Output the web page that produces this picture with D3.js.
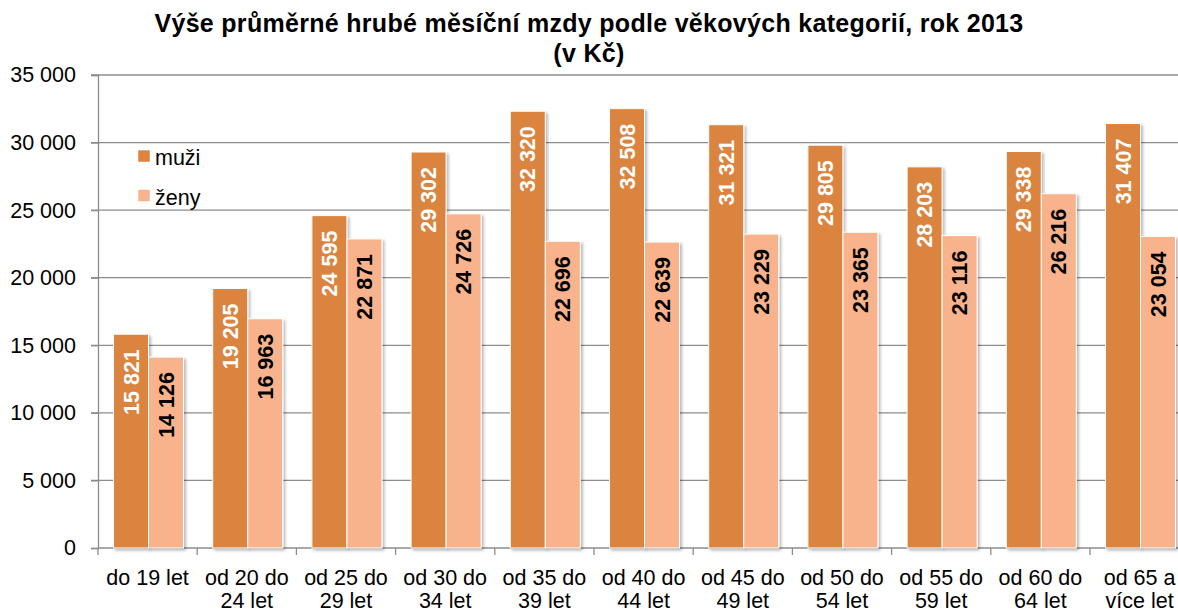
<!DOCTYPE html>
<html><head><meta charset="utf-8">
<script src="https://cdn.jsdelivr.net/npm/d3@7"></script>
<style>
body{margin:0;background:#fff;}
svg{display:block;font-family:"Liberation Sans",Arial,sans-serif;}
</style></head>
<body>
<svg id="chart" width="1178" height="612"></svg>
<script>
const categories = [["do 19 let"],["od 20 do","24 let"],["od 25 do","29 let"],["od 30 do","34 let"],["od 35 do","39 let"],["od 40 do","44 let"],["od 45 do","49 let"],["od 50 do","54 let"],["od 55 do","59 let"],["od 60 do","64 let"],["od 65 a","více let"]];
const seriesNames = ["muži","ženy"];
const muzi = [15821,19205,24595,29302,32320,32508,31321,29805,28203,29338,31407];
const zeny = [14126,16963,22871,24726,22696,22639,23229,23365,23116,26216,23054];
const yTicks = [0,5000,10000,15000,20000,25000,30000,35000];
const titleLines = ["Výše průměrné hrubé měsíční mzdy podle věkových kategorií, rok 2013","(v Kč)"];
const colors = {"muži":"#DB843F","ženy":"#F8B38C"};
const labelColors = {"muži":"#ffffff","ženy":"#000000"};

(function(){
const svg = d3.select("#chart");
const W = 1178;
const mLeft = 98, mTop = 75, mBottom = 548;
const catKeys = categories.map(c => c.join(" "));
const x0 = d3.scaleBand().domain(catKeys).range([mLeft, mLeft + 11*99.2]);
const x1 = d3.scaleBand().domain(seriesNames).range([15.5, 85.5]);
const y = d3.scaleLinear().domain([0,35000]).range([mBottom, mTop]);
const fmt = v => d3.format(",")(v).replace(/,/g, " ");

const defs = svg.append("defs");
const f = defs.append("filter").attr("id","sh").attr("x","-20%").attr("y","-5%").attr("width","150%").attr("height","120%");
f.append("feDropShadow").attr("dx",2).attr("dy",2).attr("stdDeviation",1.5).attr("flood-color","#000").attr("flood-opacity",0.28);

// gridlines
svg.append("g").selectAll("line").data(yTicks.filter(t=>t>0)).join("line")
  .attr("x1", mLeft-7).attr("x2", W).attr("y1", d=>y(d)).attr("y2", d=>y(d))
  .attr("stroke","#8c8c8c").attr("stroke-width",1.3);

// y axis
const yAxis = svg.append("g").attr("transform",`translate(${mLeft},0)`)
  .call(d3.axisLeft(y).tickValues(yTicks).tickSize(7).tickPadding(15).tickFormat(fmt));
yAxis.select(".domain").attr("stroke","#8c8c8c").attr("stroke-width",1.3);
yAxis.selectAll(".tick line").attr("stroke","#8c8c8c").attr("stroke-width",1.3);
yAxis.selectAll("text").attr("font-size",21.5).attr("fill","#000").attr("font-family","Liberation Sans, Arial, sans-serif");

// x axis baseline and ticks
svg.append("line").attr("x1",mLeft).attr("x2",W).attr("y1",mBottom).attr("y2",mBottom).attr("stroke","#8c8c8c").attr("stroke-width",1.3);
const bounds = catKeys.map(k=>x0(k)).concat([x0(catKeys[catKeys.length-1])+x0.bandwidth()]);
svg.append("g").selectAll("line").data(bounds).join("line")
  .attr("x1",d=>d).attr("x2",d=>d).attr("y1",mBottom).attr("y2",mBottom+7)
  .attr("stroke","#8c8c8c").attr("stroke-width",1.3);

// bars
const data = [];
categories.forEach((c,i)=>{
  data.push({cat:catKeys[i], s:"muži", v:muzi[i]});
  data.push({cat:catKeys[i], s:"ženy", v:zeny[i]});
});
svg.append("g").selectAll("rect").data(data).join("rect")
  .attr("x", d=>x0(d.cat)+x1(d.s)).attr("width", x1.bandwidth())
  .attr("y", d=>y(d.v)).attr("height", d=>mBottom - y(d.v))
  .attr("fill", d=>colors[d.s]).attr("stroke","#fff").attr("stroke-width",1)
  .attr("filter","url(#sh)");

// labels
svg.append("g").selectAll("text").data(data).join("text")
  .attr("transform", d=>`translate(${x0(d.cat)+x1(d.s)+x1.bandwidth()/2},${y(d.v)+15}) rotate(-90)`)
  .attr("text-anchor","end").attr("dy","0.35em")
  .attr("font-size",21.5).attr("font-weight","bold")
  .attr("fill", d=>labelColors[d.s]).text(d=>fmt(d.v));

// category labels
const cl = svg.append("g").selectAll("text").data(categories).join("text")
  .attr("x",(d,i)=>x0(catKeys[i])+x0.bandwidth()/2).attr("y",585)
  .attr("text-anchor","middle").attr("font-size",21.5).attr("fill","#000");
cl.each(function(d){
  const t = d3.select(this);
  d.forEach((line,j)=>t.append("tspan").attr("x",t.attr("x")).attr("dy", j===0?0:23).text(line));
});

// title
svg.append("g").selectAll("text").data(titleLines).join("text")
  .attr("x",589).attr("y",(d,i)=>32+i*29.5).attr("text-anchor","middle")
  .attr("font-size",25).attr("letter-spacing",0.3).attr("font-weight","bold").attr("fill","#000").text(d=>d);

// legend
const lg = svg.append("g").selectAll("g").data(seriesNames).join("g")
  .attr("transform",(d,i)=>`translate(138,${150+i*39.5})`);
lg.append("rect").attr("width",12).attr("height",12).attr("fill",d=>colors[d]).attr("stroke","#fff").attr("stroke-width",0.5);
lg.append("text").attr("x",17).attr("y",15).attr("font-size",21.5).attr("fill","#000").text(d=>d);
})();
</script>
</body></html>
